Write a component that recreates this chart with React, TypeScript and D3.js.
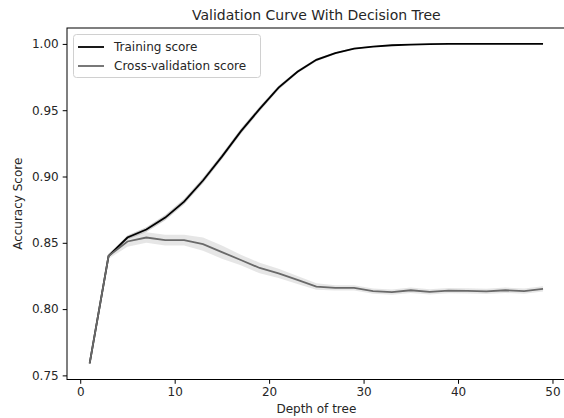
import React, { useEffect, useRef } from 'react';
import * as d3 from 'd3';

// profundidades evaluadas (max_depth)
const depths = [1, 3, 5, 7, 9, 11, 13, 15, 17, 19, 21, 23, 25, 27, 29, 31, 33, 35, 37, 39, 41, 43, 45, 47, 49];

const trainMean = [0.759, 0.840, 0.854, 0.860, 0.869, 0.881, 0.897, 0.915, 0.934, 0.951, 0.967, 0.979, 0.988,
  0.993, 0.9965, 0.998, 0.999, 0.9995, 0.9998, 1.0, 1.0, 1.0, 1.0, 1.0, 1.0];
const trainStd = [0.0005, 0.001, 0.0015, 0.0018, 0.002, 0.002, 0.002, 0.002, 0.002, 0.0018, 0.0015, 0.0012, 0.001,
  0.0008, 0.0006, 0.0004, 0.0003, 0.0002, 0.0001, 0, 0, 0, 0, 0, 0];

const cvMean = [0.759, 0.840, 0.851, 0.854, 0.852, 0.852, 0.849, 0.843, 0.837, 0.831, 0.827, 0.822, 0.817,
  0.816, 0.816, 0.8135, 0.8128, 0.8142, 0.813, 0.814, 0.8138, 0.8133, 0.8142, 0.8135, 0.8152];
const cvStd = [0.0005, 0.002, 0.004, 0.004, 0.004, 0.004, 0.005, 0.005, 0.004, 0.004, 0.0035, 0.003, 0.0025,
  0.002, 0.002, 0.002, 0.002, 0.002, 0.002, 0.002, 0.002, 0.002, 0.002, 0.002, 0.002];

const xTicks = [0, 10, 20, 30, 40, 50];
const yTicks = [0.75, 0.80, 0.85, 0.90, 0.95, 1.00];

function App() {
  const ref = useRef<SVGSVGElement>(null);

  useEffect(() => {
    const width = 564, height = 418;
    const left = 67, top = 28, right = 565.7, bottom = 379.5;
    const font = 'DejaVu Sans, sans-serif';

    const svg = d3.select(ref.current);
    svg.selectAll('*').remove();

    const x = d3.scaleLinear().domain([-1.4, 51.4]).range([left, right]);
    const y = d3.scaleLinear().domain([0.7469, 1.012]).range([bottom, top]);

    const idx = d3.range(depths.length);

    // bandas de desviacion
    const band = (m: number[], s: number[]) => d3.area<number>()
      .x(i => x(depths[i]))
      .y0(i => y(m[i] - s[i]))
      .y1(i => y(m[i] + s[i]));

    svg.append('path').attr('d', band(trainMean, trainStd)(idx)).attr('fill', '#000').attr('fill-opacity', 0.2);
    svg.append('path').attr('d', band(cvMean, cvStd)(idx)).attr('fill', '#808080').attr('fill-opacity', 0.2);

    const line = (m: number[]) => d3.line<number>().x(i => x(depths[i])).y(i => y(m[i]));
    svg.append('path').attr('d', line(trainMean)(idx)).attr('fill', 'none').attr('stroke', '#000').attr('stroke-width', 1.8);
    svg.append('path').attr('d', line(cvMean)(idx)).attr('fill', 'none').attr('stroke', '#696969').attr('stroke-width', 1.8);

    // ejes
    const xAxis = svg.append('g').attr('transform', `translate(0,${bottom})`)
      .call(d3.axisBottom(x).tickValues(xTicks).tickSize(4.3).tickPadding(4).tickFormat(d3.format('d')));
    const yAxis = svg.append('g').attr('transform', `translate(${left},0)`)
      .call(d3.axisLeft(y).tickValues(yTicks).tickSize(4.3).tickPadding(4).tickFormat(d3.format('.2f')));
    [xAxis, yAxis].forEach(a => {
      a.select('.domain').remove();
      a.selectAll('text').attr('font-family', font).attr('font-size', 12).attr('fill', '#262626');
      a.selectAll('line').attr('stroke', '#000').attr('stroke-width', 1);
    });

    // marco
    svg.append('rect').attr('x', left).attr('y', top).attr('width', right - left).attr('height', bottom - top)
      .attr('fill', 'none').attr('stroke', '#000').attr('stroke-width', 1);

    svg.append('text').attr('x', (left + right) / 2).attr('y', 20).attr('text-anchor', 'middle')
      .attr('font-family', font).attr('font-size', 14).attr('fill', '#262626').text('Validation Curve With Decision Tree');
    svg.append('text').attr('x', (left + right) / 2).attr('y', 413).attr('text-anchor', 'middle')
      .attr('font-family', font).attr('font-size', 12).attr('fill', '#262626').text('Depth of tree');
    svg.append('text').attr('transform', `translate(22,${(top + bottom) / 2}) rotate(-90)`).attr('text-anchor', 'middle')
      .attr('font-family', font).attr('font-size', 12).attr('fill', '#262626').text('Accuracy Score');

    // leyenda
    const lg = svg.append('g');
    lg.append('rect').attr('x', 73.5).attr('y', 34.5).attr('width', 187).attr('height', 43).attr('rx', 3)
      .attr('fill', '#fff').attr('fill-opacity', 0.8).attr('stroke', '#d0d0d0');
    const items = [{ name: 'Training score', color: '#000' }, { name: 'Cross-validation score', color: '#696969' }];
    items.forEach((it, i) => {
      const yy = 47 + i * 19;
      lg.append('line').attr('x1', 78).attr('x2', 104).attr('y1', yy).attr('y2', yy)
        .attr('stroke', it.color).attr('stroke-width', 1.8);
      lg.append('text').attr('x', 114).attr('y', yy + 4.3).attr('font-family', font).attr('font-size', 12)
        .attr('fill', '#262626').text(it.name);
    });

    svg.attr('width', width).attr('height', height);
  }, []);

  return <svg ref={ref} width={564} height={418} style={{ position: 'absolute', left: 0, top: 0, background: '#fff' }} />;
}

export default App;
